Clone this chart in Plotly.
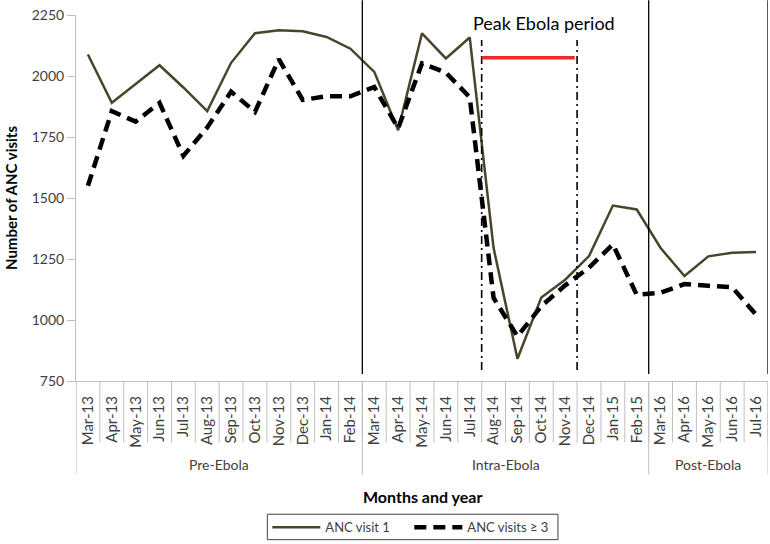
import plotly.graph_objects as go

months = ["Mar-13", "Apr-13", "May-13", "Jun-13", "Jul-13", "Aug-13", "Sep-13", "Oct-13",
          "Nov-13", "Dec-13", "Jan-14", "Feb-14", "Mar-14", "Apr-14", "May-14", "Jun-14",
          "Jul-14", "Aug-14", "Sep-14", "Oct-14", "Nov-14", "Dec-14", "Jan-15", "Feb-15",
          "Mar-16", "Apr-16", "May-16", "Jun-16", "Jul-16"]
anc_visit_1 = [2088, 1890, 1967, 2044, 1953, 1856, 2054, 2175, 2187, 2183, 2160, 2112,
               2017, 1778, 2175, 2072, 2158, 1295, 841, 1092, 1165, 1262, 1469, 1453,
               1295, 1180, 1261, 1276, 1279]
anc_visits_3 = [1550, 1856, 1813, 1890, 1673, 1789, 1936, 1853, 2069, 1902, 1917, 1917,
                1955, 1786, 2052, 2014, 1913, 1090, 933, 1057, 1142, 1215, 1310, 1103,
                1112, 1147, 1140, 1134, 1022]
periods = ["Pre-Ebola", "Intra-Ebola", "Post-Ebola"]
period_first = ["Mar-13", "Mar-14", "Mar-16"]
period_last = ["Feb-14", "Feb-15", "Jul-16"]
peak_first, peak_last = "Aug-14", "Nov-14"
peak_label = "Peak Ebola period"
peak_level = 2075

FONT = "Lato"
TXT = "#404040"
GRID = "#bfbfbf"

idx = {m: i for i, m in enumerate(months)}

fig = go.Figure()
fig.add_trace(go.Scatter(x=months, y=anc_visit_1, mode="lines", name="ANC visit 1",
                         line=dict(color="#4a452a", width=2.5)))
fig.add_trace(go.Scatter(x=months, y=anc_visits_3, mode="lines", name="ANC visits ≥ 3",
                         line=dict(color="black", width=4.5, dash="12px,7px")))

shapes = []
# category separators below axis
for i in range(len(months) + 1):
    shapes.append(dict(type="line", xref="x", yref="paper", x0=i - 0.5, x1=i - 0.5,
                       y0=0, y1=-0.168, line=dict(color=GRID, width=1)))
# group separators
bounds = [idx[period_first[0]] - 0.5] + [idx[l] + 0.5 for l in period_last]
for b in bounds:
    shapes.append(dict(type="line", xref="x", yref="paper", x0=b, x1=b,
                       y0=0, y1=-0.255, line=dict(color=GRID, width=1)))
# black period lines in plot
for l in period_last:
    b = idx[l] + 0.5
    shapes.append(dict(type="line", xref="x", yref="paper", x0=b, x1=b,
                       y0=0.019, y1=1.04, line=dict(color="black", width=1.3)))
# peak dash-dot lines
for b in [idx[peak_first] - 0.5, idx[peak_last] + 0.5]:
    shapes.append(dict(type="line", xref="x", yref="y", x0=b, x1=b, y0=795, y1=2148,
                       line=dict(color="black", width=1.6, dash="8px,4px,2px,4px")))
# red peak bar
shapes.append(dict(type="line", xref="x", yref="y", x0=idx[peak_first] - 0.5,
                   x1=idx[peak_last] + 0.4, y0=peak_level, y1=peak_level,
                   line=dict(color="#ee2a2a", width=3.5)))
# legend frame
shapes.append(dict(type="rect", xref="paper", yref="paper", x0=0.2765, x1=0.6965,
                   y0=-0.4335, y1=-0.364, line=dict(color="#404040", width=1),
                   fillcolor="rgba(0,0,0,0)"))

annotations = []
annotations.append(dict(text=peak_label, x=19.1, y=2217, xref="x", yref="y",
                        showarrow=False, font=dict(family=FONT, size=18, color="black")))
for p, f, l in zip(periods, period_first, period_last):
    annotations.append(dict(text=p, x=(idx[f] + idx[l]) / 2, y=-0.2275, xref="x",
                            yref="paper", showarrow=False, yanchor="middle",
                            font=dict(family=FONT, size=14, color=TXT)))
annotations.append(dict(text="<b>Months and year</b>", x=0.5, y=-0.315, xref="paper",
                        yref="paper", showarrow=False, yanchor="middle",
                        font=dict(family=FONT, size=16, color="black")))

fig.update_layout(
    width=770, height=544,
    margin=dict(l=76, r=2, t=15, b=161),
    paper_bgcolor="white", plot_bgcolor="white",
    font=dict(family=FONT, size=14, color=TXT),
    shapes=shapes, annotations=annotations,
    showlegend=True,
    legend=dict(orientation="h", x=0.2765, xanchor="left", y=-0.3995, yanchor="middle",
                borderwidth=0, bgcolor="rgba(0,0,0,0)",
                font=dict(family=FONT, size=13, color=TXT),
                itemwidth=48, entrywidth=79),
    xaxis=dict(type="category", categoryorder="array", categoryarray=months,
               range=[-0.5, len(months) - 0.5], showgrid=False, zeroline=False,
               showline=True, linecolor=GRID, linewidth=1, ticks="outside", ticklen=8,
               tickcolor="rgba(0,0,0,0)", tickangle=-90,
               tickfont=dict(family=FONT, size=15, color=TXT)),
    yaxis=dict(range=[750, 2250], dtick=250, tick0=750, showgrid=False, zeroline=False,
               showline=True, linecolor=GRID, linewidth=1, ticks="outside", ticklen=8,
               tickcolor=GRID, tickfont=dict(family=FONT, size=14, color=TXT),
               title=dict(text="<b>Number of ANC visits</b>", standoff=10,
                          font=dict(family=FONT, size=15, color="black"))),
)

fig.write_html("out.html", config={"displayModeBar": False},
               post_script="document.body.style.margin='0';document.body.style.overflow='hidden';")
